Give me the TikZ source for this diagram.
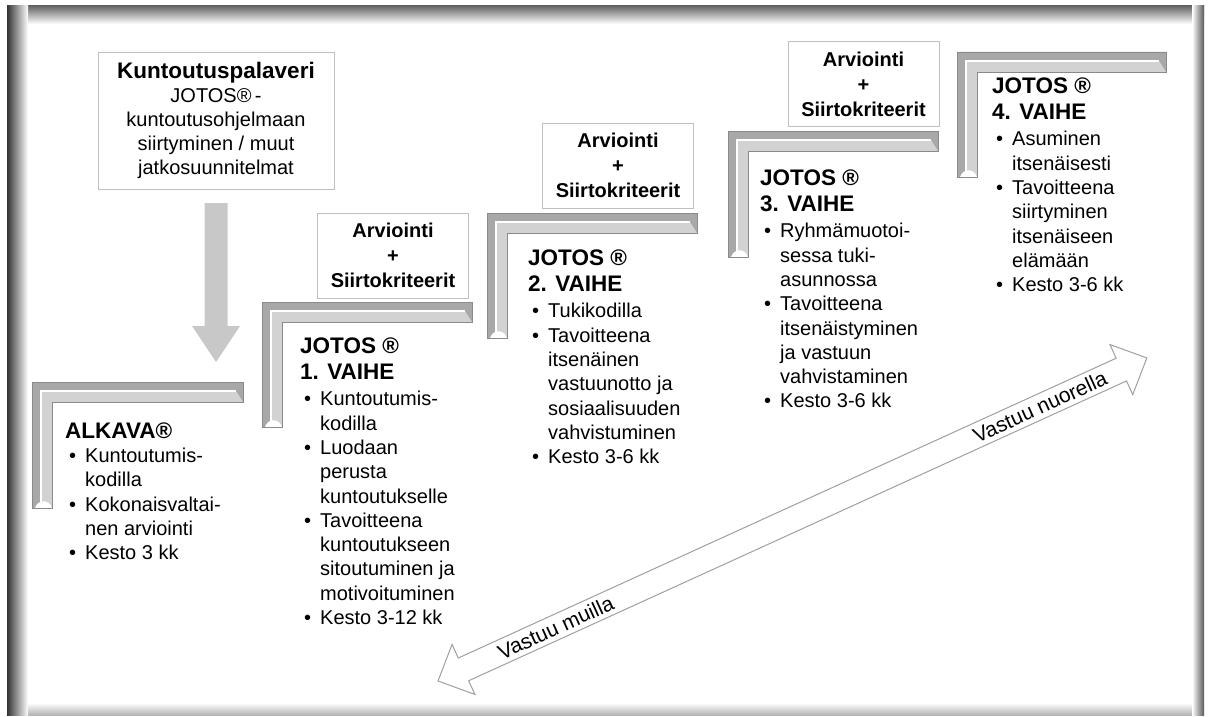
\documentclass[tikz,border=0pt]{standalone}
\usepackage{fontspec}
\setmainfont{Liberation Sans}
\usepackage{tikz}

\definecolor{barmid}{HTML}{A8A8A8}
\definecolor{barlight}{HTML}{D2D2D2}
\definecolor{bardark}{HTML}{8A8A8A}
\definecolor{boxline}{HTML}{BFBFBF}
\definecolor{arrowgray}{HTML}{C8C8C8}
\definecolor{arrowline}{HTML}{A0A0A0}

\begin{document}
\begin{tikzpicture}[x=1pt, y=-1pt,
  stagetxt/.style={anchor=north west, align=left, inner sep=0pt, font=\fontsize{20}{24.3}\selectfont},
  critbox/.style={draw=boxline, fill=white, line width=0.8pt, align=center, inner sep=0pt,
    minimum width=151pt, minimum height=85pt, font=\bfseries\fontsize{20}{25}\selectfont},
  resplabel/.style={inner sep=0pt, sloped, font=\fontsize{21}{25}\selectfont}]
\useasboundingbox (0,0) rectangle (1211,717);

% text helpers
\def\hd#1{{\fontsize{22.5}{26}\selectfont\bfseries #1}}
\def\bul{\hspace*{4pt}\makebox[16pt][l]{\textbullet}}
\def\ind{\hspace*{20pt}}

% bevelled L frame: x, y, width, height
\def\lframe#1#2#3#4{%
  \fill[barmid] (#1,#2) -- (#1+#3,#2) -- (#1+#3,#2+20) -- (#1+20,#2+20) -- (#1+20,#2+#4) -- (#1,#2+#4) -- cycle;
  \fill[barlight] (#1+9,#2+9) -- (#1+#3-7,#2+9) -- (#1+#3,#2+20) -- (#1+20,#2+20) -- (#1+20,#2+#4) -- (#1+9,#2+#4) -- cycle;
  \draw[white, line width=2pt] (#1+9,#2+#4-6) -- (#1+9,#2+9) -- (#1+#3-7,#2+9);
  \fill[white] (#1+3,#2+#4) .. controls (#1+6,#2+#4-9) and (#1+17,#2+#4-9) .. (#1+20,#2+#4) -- cycle;
  \draw[bardark, line width=0.6pt] (#1,#2) -- (#1+#3,#2) -- (#1+#3,#2+20) -- (#1+20,#2+20) -- (#1+20,#2+#4) -- (#1,#2+#4) -- cycle;
}

% frame with inner shadow
\fill[white] (0,0) rectangle (1211,717);
\shade[top color=black!60, bottom color=white] (7,6) rectangle (1204,24);
\shade[top color=white, bottom color=black!30] (7,703) rectangle (1204,715);
\shade[left color=white, right color=black!65] (1192,6) rectangle (1204,715);
\shade[left color=black!80, right color=white] (7,6) rectangle (28,715);

% start
\node[draw=boxline, fill=white, line width=0.8pt, align=center, inner sep=0pt,
  minimum width=236pt, minimum height=137pt, font=\fontsize{20}{24}\selectfont]
  (palaveri) at (216,120.5) {\hd{Kuntoutuspalaveri}\\ JOTOS®\,-\\ kuntoutusohjelmaan\\ siirtyminen / muut\\ jatkosuunnitelmat};
\fill[arrowgray] (204.5,203) -- (227.5,203) -- (227.5,326) -- (240,326) -- (216,362) -- (192,326) -- (204.5,326) -- cycle;

% stages
\lframe{32}{382}{211}{126}
\lframe{262}{302}{210}{125}
\lframe{487}{213}{210}{125}
\lframe{728}{131}{210}{126}
\lframe{957}{52}{209}{125}

\node[stagetxt] (alkava) at (65,420) {\hd{\rule{0pt}{18pt}ALKAVA®}\\
  \bul Kuntoutumis-\\ \ind kodilla\\
  \bul Kokonaisvaltai-\\ \ind nen arviointi\\
  \bul Kesto 3 kk};
\node[stagetxt] (vaihe1) at (300,335) {\hd{\rule{0pt}{18pt}JOTOS ®}\\[2pt] \hd{1. VAIHE}\\[2pt]
  \bul Kuntoutumis-\\ \ind kodilla\\
  \bul Luodaan\\ \ind perusta\\ \ind kuntoutukselle\\
  \bul Tavoitteena\\ \ind kuntoutukseen\\ \ind sitoutuminen ja\\ \ind motivoituminen\\
  \bul Kesto 3-12 kk};
\node[stagetxt] (vaihe2) at (528,247) {\hd{\rule{0pt}{18pt}JOTOS ®}\\[2pt] \hd{2. VAIHE}\\[2pt]
  \bul Tukikodilla\\
  \bul Tavoitteena\\ \ind itsenäinen\\ \ind vastuunotto ja\\ \ind sosiaalisuuden\\ \ind vahvistuminen\\
  \bul Kesto 3-6 kk};
\node[stagetxt] (vaihe3) at (760,167) {\hd{\rule{0pt}{18pt}JOTOS ®}\\[2pt] \hd{3. VAIHE}\\[2pt]
  \bul Ryhmämuotoi-\\ \ind sessa tuki-\\ \ind asunnossa\\
  \bul Tavoitteena\\ \ind itsenäistyminen\\ \ind ja vastuun\\ \ind vahvistaminen\\
  \bul Kesto 3-6 kk};
\node[stagetxt] (vaihe4) at (992,75) {\hd{\rule{0pt}{18pt}JOTOS ®}\\[2pt] \hd{4. VAIHE}\\[2pt]
  \bul Asuminen\\ \ind itsenäisesti\\
  \bul Tavoitteena\\ \ind siirtyminen\\ \ind itsenäiseen\\ \ind elämään\\
  \bul Kesto 3-6 kk};

% criteria between stages
\node[critbox] (crit1) at (393,255.5) {Arviointi\\+\\Siirtokriteerit};
\node[critbox] (crit2) at (618,165.5) {Arviointi\\+\\Siirtokriteerit};
\node[critbox] (crit3) at (863.5,84) {Arviointi\\+\\Siirtokriteerit};

% responsibility arrow
\coordinate (lowtip) at (438,681);
\coordinate (hightip) at (1147,358);
\begin{scope}[shift={(lowtip)}, rotate=24.5, x=1pt, y=1pt]
  \filldraw[fill=white, draw=arrowline, line width=1pt] (0,0) -- (28,27.5) -- (28,12.5) -- (751,12.5)
    -- (751,27.5) -- (779,0) -- (751,-27.5) -- (751,-12.5) -- (28,-12.5) -- (28,-27.5) -- cycle;
\end{scope}
\path (lowtip) -- (hightip)
  node[resplabel, pos=0.166] (muilla) {Vastuu muilla}
  node[resplabel, pos=0.849] (nuorella) {Vastuu nuorella};
\end{tikzpicture}
\end{document}
